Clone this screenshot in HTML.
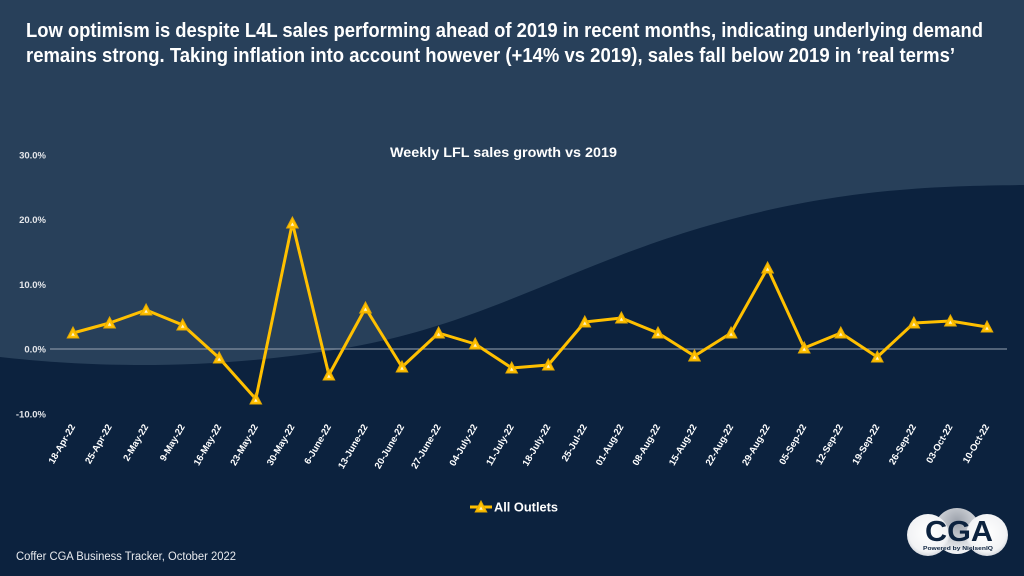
<!DOCTYPE html>
<html>
<head>
<meta charset="utf-8">
<style>
html,body{margin:0;padding:0;background:#0c223e;}
svg{display:block;}
text{font-family:"Liberation Sans",Arial,sans-serif;}
</style>
</head>
<body>
<svg width="1024" height="576" viewBox="0 0 1024 576" xmlns="http://www.w3.org/2000/svg">
<defs>
<radialGradient id="mid" cx="50%" cy="30%" r="70%">
<stop offset="0" stop-color="#9aa0aa"/>
<stop offset="1" stop-color="#f4f5f7"/>
</radialGradient>
<radialGradient id="side" cx="50%" cy="45%" r="60%">
<stop offset="0" stop-color="#ffffff"/>
<stop offset="0.75" stop-color="#f2f3f5"/>
<stop offset="1" stop-color="#c8ccd3"/>
</radialGradient>
<g id="tri">
<path d="M0,-6 L5.8,5 L-5.8,5 Z" fill="#FFC000" stroke="#E5A900" stroke-width="1"/>
<path d="M0,-0.5 L1.8,2.8 L-1.8,2.8 Z" fill="#fff3c4"/>
</g>
</defs>

<rect x="0" y="0" width="1024" height="576" fill="#28405a"/>
<path d="M0,357 C80,366 200,372 340,349 S560,270 700,228 S950,186 1024,185 L1024,576 L0,576 Z" fill="#0c223e"/>

<!-- Title -->
<text x="26" y="37" font-size="20" font-weight="bold" fill="#ffffff" textLength="957" lengthAdjust="spacingAndGlyphs">Low optimism is despite L4L sales performing ahead of 2019 in recent months, indicating underlying demand</text>
<text x="26" y="62" font-size="20" font-weight="bold" fill="#ffffff" textLength="929" lengthAdjust="spacingAndGlyphs">remains strong. Taking inflation into account however (+14% vs 2019), sales fall below 2019 in ‘real terms’</text>

<!-- Chart title -->
<text x="390" y="157" font-size="13.5" font-weight="bold" fill="#ffffff" textLength="227" lengthAdjust="spacingAndGlyphs">Weekly LFL sales growth vs 2019</text>

<!-- Y axis labels -->
<g font-size="9.5" font-weight="bold" fill="#e4e6ea" text-anchor="end">
<text x="46" y="158.5">30.0%</text>
<text x="46" y="223">20.0%</text>
<text x="46" y="288">10.0%</text>
<text x="46" y="352.5">0.0%</text>
<text x="46" y="417.5">-10.0%</text>
</g>

<!-- Zero line -->
<line x1="50" y1="349" x2="1007" y2="349" stroke="#9aa4b2" stroke-width="1.2" opacity="0.8"/>

<!-- Series line -->
<polyline fill="none" stroke="#FFC000" stroke-width="3" stroke-linejoin="round"
points="73,333 109.6,323 146.1,310 182.7,325 219.2,358 255.8,399 292.4,223 328.9,375 365.5,308 402,367 438.6,333 475.2,344 511.7,368 548.3,365 584.8,322 621.4,318 658,333 694.5,356 731.1,333 767.6,268 804.2,348 840.8,333 877.3,357 913.9,323 950.4,321 987,327"/>

<!-- Markers -->
<use href="#tri" x="73" y="333"/>
<use href="#tri" x="109.6" y="323"/>
<use href="#tri" x="146.1" y="310"/>
<use href="#tri" x="182.7" y="325"/>
<use href="#tri" x="219.2" y="358"/>
<use href="#tri" x="255.8" y="399"/>
<use href="#tri" x="292.4" y="223"/>
<use href="#tri" x="328.9" y="375"/>
<use href="#tri" x="365.5" y="308"/>
<use href="#tri" x="402" y="367"/>
<use href="#tri" x="438.6" y="333"/>
<use href="#tri" x="475.2" y="344"/>
<use href="#tri" x="511.7" y="368"/>
<use href="#tri" x="548.3" y="365"/>
<use href="#tri" x="584.8" y="322"/>
<use href="#tri" x="621.4" y="318"/>
<use href="#tri" x="658" y="333"/>
<use href="#tri" x="694.5" y="356"/>
<use href="#tri" x="731.1" y="333"/>
<use href="#tri" x="767.6" y="268"/>
<use href="#tri" x="804.2" y="348"/>
<use href="#tri" x="840.8" y="333"/>
<use href="#tri" x="877.3" y="357"/>
<use href="#tri" x="913.9" y="323"/>
<use href="#tri" x="950.4" y="321"/>
<use href="#tri" x="987" y="327"/>

<!-- X labels -->
<g font-size="9.5" font-weight="bold" fill="#ffffff" text-anchor="end">
<text transform="translate(75.5,426.5) rotate(-60)">18-Apr-22</text>
<text transform="translate(112.1,426.5) rotate(-60)">25-Apr-22</text>
<text transform="translate(148.6,426.5) rotate(-60)">2-May-22</text>
<text transform="translate(185.2,426.5) rotate(-60)">9-May-22</text>
<text transform="translate(221.7,426.5) rotate(-60)">16-May-22</text>
<text transform="translate(258.3,426.5) rotate(-60)">23-May-22</text>
<text transform="translate(294.9,426.5) rotate(-60)">30-May-22</text>
<text transform="translate(331.4,426.5) rotate(-60)">6-June-22</text>
<text transform="translate(368,426.5) rotate(-60)">13-June-22</text>
<text transform="translate(404.5,426.5) rotate(-60)">20-June-22</text>
<text transform="translate(441.1,426.5) rotate(-60)">27-June-22</text>
<text transform="translate(477.7,426.5) rotate(-60)">04-July-22</text>
<text transform="translate(514.2,426.5) rotate(-60)">11-July-22</text>
<text transform="translate(550.8,426.5) rotate(-60)">18-July-22</text>
<text transform="translate(587.3,426.5) rotate(-60)">25-Jul-22</text>
<text transform="translate(623.9,426.5) rotate(-60)">01-Aug-22</text>
<text transform="translate(660.5,426.5) rotate(-60)">08-Aug-22</text>
<text transform="translate(697,426.5) rotate(-60)">15-Aug-22</text>
<text transform="translate(733.6,426.5) rotate(-60)">22-Aug-22</text>
<text transform="translate(770.1,426.5) rotate(-60)">29-Aug-22</text>
<text transform="translate(806.7,426.5) rotate(-60)">05-Sep-22</text>
<text transform="translate(843.3,426.5) rotate(-60)">12-Sep-22</text>
<text transform="translate(879.8,426.5) rotate(-60)">19-Sep-22</text>
<text transform="translate(916.4,426.5) rotate(-60)">26-Sep-22</text>
<text transform="translate(952.9,426.5) rotate(-60)">03-Oct-22</text>
<text transform="translate(989.5,426.5) rotate(-60)">10-Oct-22</text>
</g>

<!-- Legend -->
<line x1="470" y1="507" x2="492" y2="507" stroke="#FFC000" stroke-width="3"/>
<use href="#tri" x="481" y="507"/>
<text x="494" y="511.5" font-size="12.5" font-weight="bold" fill="#ffffff" textLength="64" lengthAdjust="spacingAndGlyphs">All Outlets</text>

<!-- Footer -->
<text x="16" y="560" font-size="11.5" fill="#e8eaee" textLength="220" lengthAdjust="spacingAndGlyphs">Coffer CGA Business Tracker, October 2022</text>

<!-- Logo -->
<circle cx="957" cy="531" r="23" fill="url(#mid)"/>
<circle cx="928" cy="535" r="21" fill="url(#side)"/>
<circle cx="987" cy="535" r="21" fill="url(#side)"/>
<text x="959" y="541" font-size="29" font-weight="bold" fill="#0c223e" text-anchor="middle" textLength="68" lengthAdjust="spacingAndGlyphs">CGA</text>
<text x="958" y="550" font-size="5.5" font-weight="bold" fill="#0c223e" text-anchor="middle" textLength="70" lengthAdjust="spacingAndGlyphs">Powered by NielsenIQ</text>
</svg>
</body>
</html>
